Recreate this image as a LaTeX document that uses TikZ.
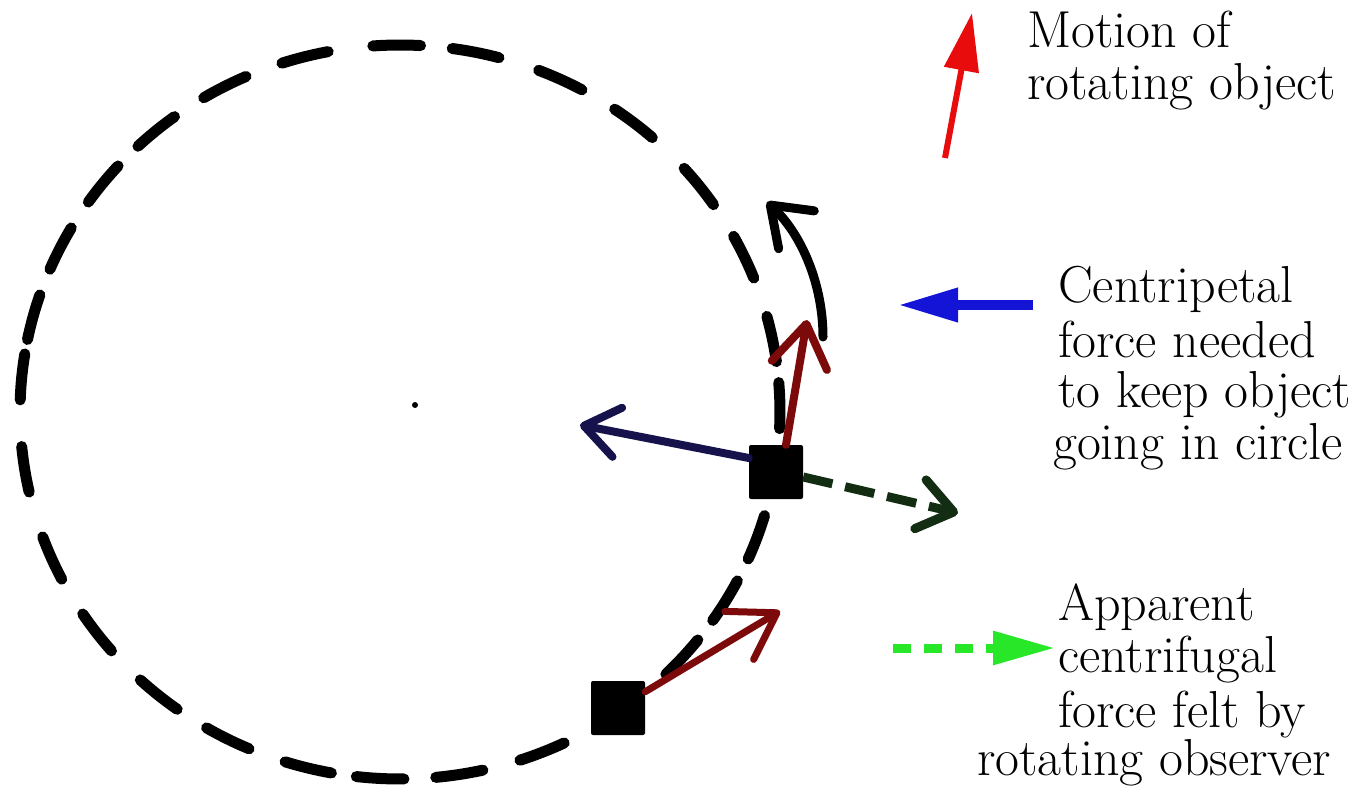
\documentclass[tikz,border=0pt]{standalone}
\usepackage{fontspec}
\usetikzlibrary{arrows.meta}
\definecolor{legred}{RGB}{232,12,12}
\definecolor{legblue}{RGB}{20,20,215}
\definecolor{leggreen}{RGB}{40,230,40}
\definecolor{darkred}{RGB}{125,10,10}
\definecolor{navyc}{RGB}{22,18,75}
\definecolor{dkgreen}{RGB}{18,45,18}
\begin{document}
\begin{tikzpicture}[x=1pt,y=-1pt,
  circdash/.style={line width=11pt,line cap=round,black},
  blk/.style={fill=black,draw=none,minimum width=54pt,minimum height=54pt,inner sep=0pt,rounded corners=2pt},
  lbl/.style={inner sep=0pt,anchor=base west,font=\fontsize{52}{52}\selectfont},
  force/.style={line width=8pt,line cap=round}
]
\fill[white] (0,0) rectangle (1360,786);
\useasboundingbox (0,0) rectangle (1360,786);

% dashed circle (orbit)
\foreach \a in {359,20,31,42,68,81,93,104,117,129.5,143,156.5,171,185.5,195,206.5,218.5,230,242.5,255.5,269.5,281.5,295,308,322,335,348.5}
  \draw[circdash] (400,412) ++({\a-3.6}:380 and 367) arc[start angle={\a-3.6}, delta angle=7.2, x radius=380, y radius=367];

% centre
\node[circle,fill=black,inner sep=0pt,minimum size=6pt] (ctr) at (415,405) {};

% objects
\node[blk] (b1) at (776,472) {};
\node[blk] (b2) at (618,708) {};

% forces on object 1
\coordinate (r1tip) at (807,320);
\coordinate (nvtip) at (580,425);
\coordinate (dgtip) at (958,513);
\draw[force,darkred,-{Straight Barb[round,length=42pt,width=56pt]}] ([xshift=10pt]b1.north) -- (r1tip);
\draw[force,navyc,-{Straight Barb[round,length=34pt,width=50pt]}] ([yshift=14pt]b1.west) -- (nvtip);
\draw[force,dkgreen,line width=9pt,line cap=butt,dash pattern=on 30pt off 13pt,-{Straight Barb[round,length=34pt,width=50pt]}] ([yshift=-5pt]b1.east) -- (dgtip);

% motion of object 2
\coordinate (r2tip) at (780,611);
\draw[force,darkred,line width=7pt,-{Straight Barb[round,length=44pt,width=56pt]}] (b2) -- (r2tip);

% curved motion arrow
\coordinate (cbeg) at (823,337);
\coordinate (ctip) at (767,202);
\draw[force,black,line width=9pt,-{Straight Barb[round,length=36pt,width=52pt]}] (cbeg) .. controls (823,285) and (802,235) .. (ctip);

% legend
\node[lbl] (mot) at (1027,48) {\begin{tabular}[t]{@{}l@{}}Motion of\\rotating object\end{tabular}};
\coordinate (mtail) at (945,158);
\coordinate (mhead) at (972,13);
\draw[legred,line width=6pt,-{Triangle[length=58pt,width=34pt]}] (mtail) -- (mhead);

\node[lbl] (cent) at (1058,303) {\begin{tabular}[t]{@{}l@{}}Centripetal\\[2pt]force needed\\[-2pt]to keep object\\\hspace*{-5pt}going in circle\end{tabular}};
\coordinate (btail) at (1033,305);
\coordinate (bhead) at (898,305);
\draw[legblue,line width=10pt,-{Triangle[length=60pt,width=32pt]}] (btail) -- (bhead);

\node[lbl] (app) at (1058,620) {\begin{tabular}[t]{@{}l@{}}Apparent\\centrifugal\\[3pt]force felt by\\[-4pt]\hspace*{-81pt}rotating observer\end{tabular}};
\coordinate (gtail) at (893,648);
\coordinate (ghead) at (1055,648);
\draw[leggreen,line width=9pt,dash pattern=on 18pt off 13pt,-{Triangle[length=62pt,width=32pt]}] (gtail) -- (ghead);
\end{tikzpicture}
\end{document}
